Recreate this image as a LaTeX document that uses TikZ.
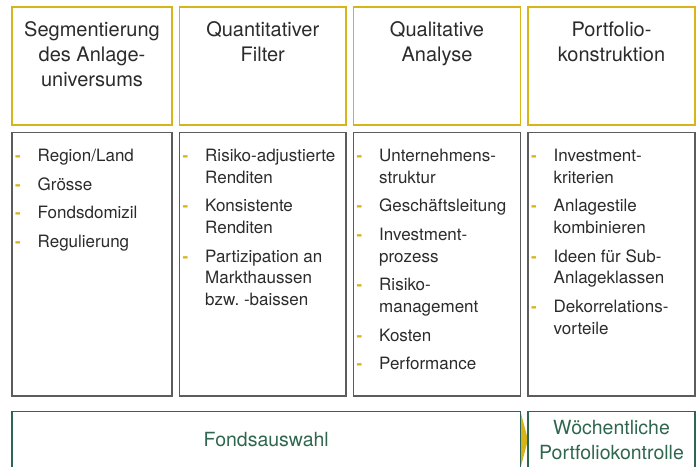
\documentclass[tikz,border=0pt]{standalone}
\usepackage{fontspec}
\setmainfont{TeX Gyre Heros}
\usepackage{tikz}
\usetikzlibrary{positioning,backgrounds}
\definecolor{gelb}{HTML}{D6B41A}
\definecolor{grau}{HTML}{5C5C5C}
\definecolor{gruen}{HTML}{2F6650}
\definecolor{schrift}{HTML}{2B2B2B}
\newcommand{\punkt}[1]{\noindent\hangindent=22.5pt\hangafter=1%
  \makebox[22.5pt][l]{\textcolor{gelb}{\bfseries -}}#1\par}

\begin{document}
\begin{tikzpicture}[
    x=1pt, y=-1pt,
    node distance=7.5pt,
    font=\fontsize{17}{21.7}\selectfont,
    kopf/.style={
		rectangle,
		draw=gelb,
		line width=1.2pt,
		inner sep=0pt,
		outer sep=0pt,
		minimum height=118pt
	},
	liste/.style={
		rectangle,
		draw=grau,
		line width=1.2pt,
		inner sep=0pt,
		outer sep=0pt,
		minimum height=263.5pt
	},
	fuss/.style={
		rectangle,
		draw=gruen,
		line width=1.2pt,
		inner sep=0pt,
		outer sep=0pt,
		minimum height=56.5pt,
		text=gruen,
		align=center,
		font=\fontsize{19.5}{25}\selectfont
	},
	kopftext/.style={
	  anchor=base,
	  inner sep=0pt,
	  text=schrift,
	  font=\fontsize{20}{25}\selectfont
    },
	listtext/.style={
	  anchor=base west,
	  inner sep=0pt,
	  text=schrift
    }
  ]

 \useasboundingbox (0,0) rectangle (700,466);

 % // Kopfzeile
 \node [kopf, minimum width=160pt, anchor=north west] (seg) at (12,7) {};
 \node [kopf, minimum width=166.5pt, right=of seg] (quant) {};
 \node [kopf, minimum width=167pt, right=of quant] (qual) {};
 \node [kopf, minimum width=167pt, right=of qual] (port) {};

 \node [kopftext] (segkopf) at ([yshift=-29.5pt]seg.north)
 {\parbox[t]{155pt}{\centering Segmentierung\\des Anlage-\\universums}};
 \node [kopftext] (quantkopf) at ([yshift=-29.5pt]quant.north)
 {\parbox[t]{155pt}{\centering Quantitativer\\Filter}};
 \node [kopftext] (qualkopf) at ([yshift=-29.5pt]qual.north)
 {\parbox[t]{155pt}{\centering Qualitative\\Analyse}};
 \node [kopftext] (portkopf) at ([yshift=-29.5pt]port.north)
 {\parbox[t]{155pt}{\centering Portfolio-\\konstruktion}};

 % // Listen
 \node [liste, minimum width=160pt, below=of seg] (segliste) {};
 \node [liste, minimum width=166.5pt, below=of quant] (quantliste) {};
 \node [liste, minimum width=167pt, below=of qual] (qualliste) {};
 \node [liste, minimum width=167pt, below=of port] (portliste) {};

 \node [listtext] (segpunkte) at ([xshift=3pt,yshift=-29pt]segliste.north west)
 {\parbox[t]{170pt}{\setlength{\parskip}{6.9pt}%
  \punkt{Region/Land}
  \punkt{Grösse}
  \punkt{Fondsdomizil}
  \punkt{Regulierung}}};
 \node [listtext] (quantpunkte) at ([xshift=3pt,yshift=-29pt]quantliste.north west)
 {\parbox[t]{170pt}{\setlength{\parskip}{6.9pt}%
  \punkt{Risiko-adjustierte\\Renditen}
  \punkt{Konsistente\\Renditen}
  \punkt{Partizipation an\\Markthaussen\\bzw.\ -baissen}}};
 \node [listtext] (qualpunkte) at ([xshift=3pt,yshift=-29pt]qualliste.north west)
 {\parbox[t]{170pt}{\setlength{\parskip}{6.9pt}%
  \punkt{Unternehmens-\\struktur}
  \punkt{Geschäftsleitung}
  \punkt{Investment-\\prozess}
  \punkt{Risiko-\\management}
  \punkt{Kosten}
  \punkt{Performance}}};
 \node [listtext] (portpunkte) at ([xshift=3pt,yshift=-29pt]portliste.north west)
 {\parbox[t]{170pt}{\setlength{\parskip}{6.9pt}%
  \punkt{Investment-\\kriterien}
  \punkt{Anlagestile\\kombinieren}
  \punkt{Ideen für Sub-\\Anlageklassen}
  \punkt{Dekorrelations-\\vorteile}}};

 % // Fusszeile
 \node [fuss, minimum width=508.5pt, below right=15.5pt and 0pt of segliste.south west] (auswahl) {Fondsauswahl};
 \node [fuss, minimum width=167pt, below right=15.5pt and 0pt of portliste.south west] (kontrolle) {Wöchentliche\\Portfoliokontrolle};

 \begin{pgfonlayer}{background}
 \fill [gelb] (auswahl.north east) -- (auswahl.east -| kontrolle.west) -- (auswahl.south east) -- cycle;
 \end{pgfonlayer}

\end{tikzpicture}
\end{document}
